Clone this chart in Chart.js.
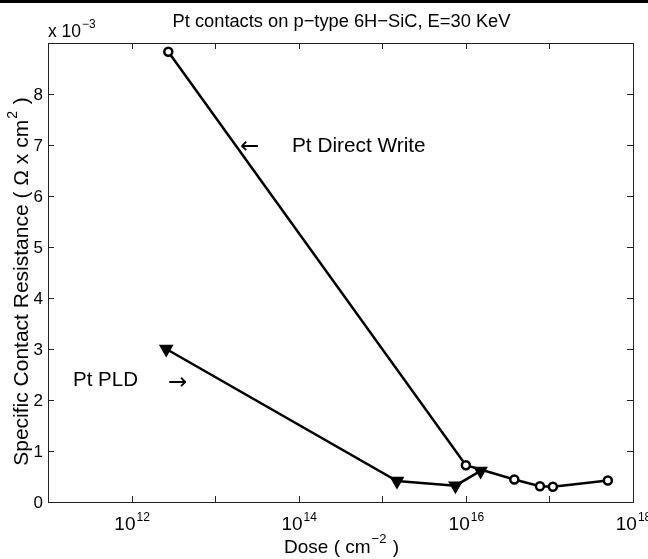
<!DOCTYPE html>
<html>
<head>
<meta charset="utf-8">
<script src="https://cdn.jsdelivr.net/npm/chart.js@4.4.1/dist/chart.umd.min.js"></script>
<style>
  html, body { margin: 0; padding: 0; background: #fff; }
  #marco { position: relative; width: 648px; height: 559px; }
  #barra { position: absolute; left: 0; top: 0; width: 648px; height: 3px; background: #000; }
</style>
</head>
<body>
<div id="marco">
  <canvas id="miGrafica" width="648" height="559"></canvas>
  <div id="barra"></div>
</div>
<script>
// datos (dosis en cm^-2, resistencia en ohm*cm^2)
const dosisDirect = [2.75e12, 1.0e16, 3.8e16, 7.7e16, 1.1e17, 5.0e17];
const resistDirect = [8.83e-3, 0.72e-3, 0.44e-3, 0.31e-3, 0.30e-3, 0.42e-3];
const dosisPLD = [2.6e12, 1.5e15, 7.5e15, 1.5e16];
const resistPLD = [3.0e-3, 0.41e-3, 0.32e-3, 0.61e-3];

// ejes
const decadasX = [11, 12, 13, 14, 15, 16, 17, 18];
const etiquetasX = [12, 14, 16, 18];
const ticksY = [0, 1, 2, 3, 4, 5, 6, 7, 8];

const FUENTE = '"Liberation Sans", Arial, sans-serif';
const FUENTE_FLECHA = '"DejaVu Sans", sans-serif';

function texto(ctx, t, x, y, px, align, fuente) {
    ctx.font = px + 'px ' + (fuente || FUENTE);
    ctx.textAlign = align || 'left';
    ctx.fillText(t, x, y);
}

// dibuja base + exponente
function conExponente(ctx, base, exp, x, y, px, pxExp, alinear) {
    ctx.font = px + 'px ' + FUENTE;
    const wb = ctx.measureText(base).width;
    ctx.font = pxExp + 'px ' + FUENTE;
    const we = ctx.measureText(exp).width;
    let x0 = x;
    if (alinear === 'center') x0 = x - (wb + we) / 2;
    ctx.textAlign = 'left';
    ctx.font = px + 'px ' + FUENTE;
    ctx.fillText(base, x0, y);
    ctx.font = pxExp + 'px ' + FUENTE;
    ctx.fillText(exp, x0 + wb + 1, y - px * 0.5);
}

const ejesMatlab = {
    id: 'ejesMatlab',
    afterDraw(chart) {
        const ctx = chart.ctx;
        const a = chart.chartArea;
        const sx = chart.scales.x;
        const sy = chart.scales.y;
        ctx.save();
        ctx.fillStyle = '#000';
        ctx.textBaseline = 'alphabetic';

        // marco
        ctx.strokeStyle = '#222';
        ctx.lineWidth = 1;
        ctx.strokeRect(a.left + 0.5, a.top + 0.5, a.right - a.left, a.bottom - a.top);

        // ticks hacia adentro
        ctx.beginPath();
        decadasX.forEach(d => {
            const px = Math.round(sx.getPixelForValue(Math.pow(10, d))) + 0.5;
            ctx.moveTo(px, a.bottom); ctx.lineTo(px, a.bottom - 6);
            ctx.moveTo(px, a.top); ctx.lineTo(px, a.top + 6);
        });
        ticksY.forEach(v => {
            const py = Math.round(sy.getPixelForValue(v * 1e-3)) + 0.5;
            ctx.moveTo(a.left, py); ctx.lineTo(a.left + 6, py);
            ctx.moveTo(a.right, py); ctx.lineTo(a.right - 6, py);
        });
        ctx.stroke();

        // etiquetas eje x
        etiquetasX.forEach(d => {
            const px = sx.getPixelForValue(Math.pow(10, d));
            conExponente(ctx, '10', String(d), px, a.bottom + 28, 19, 12, 'center');
        });
        // etiquetas eje y
        ticksY.forEach(v => {
            const py = sy.getPixelForValue(v * 1e-3);
            texto(ctx, String(v), a.left - 5, py + 6, 17, 'right');
        });

        // multiplicador
        conExponente(ctx, 'x 10', '\u22123', a.left, a.top - 6, 17.5, 12, 'left');

        // titulo
        texto(ctx, 'Pt contacts on p\u2212type 6H\u2212SiC, E=30 KeV', (a.left + a.right) / 2 + 1, 27, 18.3, 'center');

        // titulo eje x
        ctx.font = '19px ' + FUENTE;
        const t1 = 'Dose ( cm', t2 = '\u22122', t3 = ' )';
        const w1 = ctx.measureText(t1).width, w3 = ctx.measureText(t3).width;
        ctx.font = '13px ' + FUENTE;
        const w2 = ctx.measureText(t2).width;
        let x0 = (a.left + a.right) / 2 - (w1 + w2 + w3) / 2;
        const yb = 553;
        texto(ctx, t1, x0, yb, 19);
        texto(ctx, t2, x0 + w1 + 1, yb - 10, 13);
        texto(ctx, t3, x0 + w1 + w2 + 2, yb, 19);

        // titulo eje y (rotado)
        ctx.save();
        ctx.translate(28, (a.top + a.bottom) / 2 + 10);
        ctx.rotate(-Math.PI / 2);
        ctx.font = '21px ' + FUENTE;
        const s1 = 'Specific Contact Resistance ( \u03A9 x cm', s2 = '2', s3 = ' )';
        const v1 = ctx.measureText(s1).width, v3 = ctx.measureText(s3).width;
        ctx.font = '14px ' + FUENTE;
        const v2 = ctx.measureText(s2).width;
        const y0 = -(v1 + v2 + v3) / 2;
        texto(ctx, s1, y0, 0, 21);
        texto(ctx, s2, y0 + v1 + 1, -11, 14);
        texto(ctx, s3, y0 + v1 + v2 + 2, 0, 21);
        ctx.restore();

        // anotaciones
        texto(ctx, '\u2190', 240, 153, 23, 'left', FUENTE_FLECHA);
        texto(ctx, 'Pt Direct Write', 292, 152, 20.8);
        texto(ctx, 'Pt PLD', 73, 386, 20.5);
        texto(ctx, '\u2192', 168, 389, 23, 'left', FUENTE_FLECHA);

        ctx.restore();
    }
};

const ctx = document.getElementById('miGrafica').getContext('2d');
new Chart(ctx, {
    type: 'line',
    data: {
        datasets: [{
            label: 'Pt Direct Write',
            data: dosisDirect.map((d, i) => ({ x: d, y: resistDirect[i] })),
            borderColor: '#000',
            borderWidth: 2.5,
            pointStyle: 'circle',
            pointRadius: 4,
            pointBorderWidth: 2.5,
            pointBackgroundColor: '#fff',
            pointBorderColor: '#000',
            fill: false,
            tension: 0
        }, {
            label: 'Pt PLD',
            data: dosisPLD.map((d, i) => ({ x: d, y: resistPLD[i] })),
            borderColor: '#000',
            borderWidth: 2.5,
            pointStyle: 'triangle',
            rotation: 180,
            pointRadius: 6,
            pointBorderWidth: 2.5,
            pointBackgroundColor: '#000',
            pointBorderColor: '#000',
            fill: false,
            tension: 0
        }]
    },
    options: {
        responsive: false,
        devicePixelRatio: 1,
        animation: false,
        layout: { padding: { left: 48, right: 15, top: 43, bottom: 57 } },
        plugins: { legend: { display: false }, tooltip: { enabled: false } },
        scales: {
            x: { type: 'logarithmic', min: 1e11, max: 1e18, display: false },
            y: { type: 'linear', min: 0, max: 9e-3, display: false }
        }
    },
    plugins: [ejesMatlab]
});
</script>
</body>
</html>
